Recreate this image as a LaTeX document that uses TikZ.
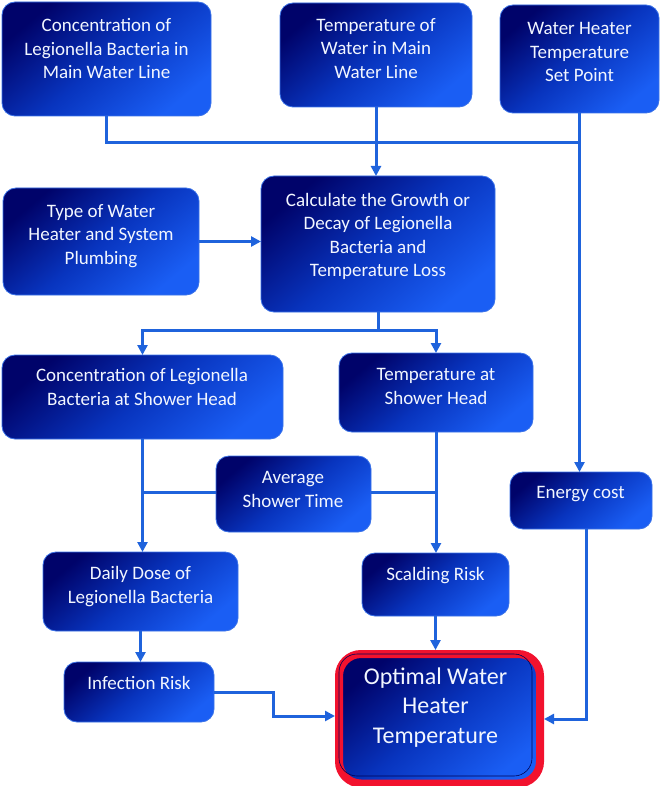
\documentclass[tikz,border=0pt]{standalone}
\usepackage{fontspec}
\setmainfont{Carlito}
\usetikzlibrary{arrows.meta}
\definecolor{navy}{HTML}{00036A}
\definecolor{midblue}{HTML}{0834BE}
\definecolor{bright}{HTML}{1A5EF4}
\definecolor{edge}{HTML}{3A72E8}
\definecolor{linec}{HTML}{1F63DC}
\definecolor{redb}{HTML}{F2122E}
\definecolor{txtc}{HTML}{F2F6FF}
\begin{document}
\begin{tikzpicture}[x=1pt,y=-1pt,
  box/.style={rounded corners=13pt, draw=edge, line width=0.8pt,
    top color=navy, bottom color=bright, middle color=midblue, shading angle=40,
    inner sep=0pt, outer sep=0pt, anchor=north west},
  txt/.style={text=txtc, align=center, inner sep=0pt, anchor=base,
    font=\fontsize{19}{23.5}\selectfont},
  bigtxt/.style={text=txtc, align=center, inner sep=0pt, anchor=base,
    font=\fontsize{24}{29.5}\selectfont},
  conn/.style={draw=linec, line width=3pt},
  arr/.style={conn, -{Triangle[length=10pt,width=10pt]}}]
\useasboundingbox (0,0) rectangle (662,786);

% boxes (top-left corner, size)
\node[box, minimum width=209pt, minimum height=114pt] (cml) at (2,2) {};
\node[box, minimum width=192pt, minimum height=104pt] (tml) at (280,3) {};
\node[box, minimum width=159pt, minimum height=108pt] (wsp) at (500,5) {};
\node[box, minimum width=196pt, minimum height=107pt] (type) at (3,188) {};
\node[box, minimum width=234pt, minimum height=136pt] (calc) at (261,176) {};
\node[box, minimum width=281pt, minimum height=84pt] (csh) at (2,355) {};
\node[box, minimum width=194pt, minimum height=79pt] (tsh) at (339,353) {};
\node[box, minimum width=155pt, minimum height=76pt] (avg) at (216,456) {};
\node[box, minimum width=142pt, minimum height=57pt] (ec) at (510,472) {};
\node[box, minimum width=195pt, minimum height=79pt] (daily) at (43,552) {};
\node[box, minimum width=147pt, minimum height=63pt] (scald) at (362,553) {};
\node[box, minimum width=150pt, minimum height=60pt] (inf) at (64,662) {};
\node[box, draw=redb, line width=8pt, rounded corners=22pt, outer sep=4pt,
  minimum width=201pt, minimum height=129.5pt] (opt) at (335,650) {};
\draw[rounded corners=18pt, draw=navy!80!black, line width=0.6pt]
  (339,654) rectangle (532,776);

% texts (anchor = baseline of the last line)
\node[txt] (cml-t) at (106.5,79) {Concentration of\\Legionella Bacteria in\\Main Water Line};
\node[txt] (tml-t) at (376,78.5) {Temperature of\\Water in Main\\Water Line};
\node[txt] (wsp-t) at (579.5,82) {Water Heater\\Temperature\\Set Point};
\node[txt] (type-t) at (101,264) {Type of Water\\Heater and System\\Plumbing};
\node[txt] (calc-t) at (378,276.5) {Calculate the Growth or\\Decay of Legionella\\Bacteria and\\Temperature Loss};
\node[txt] (csh-t) at (142,405) {Concentration of Legionella\\Bacteria at Shower Head};
\node[txt] (tsh-t) at (436,404) {Temperature at\\Shower Head};
\node[txt] (avg-t) at (293,507) {Average\\Shower Time};
\node[txt] (ec-t) at (580.5,498) {Energy cost};
\node[txt] (daily-t) at (140.5,603) {Daily Dose of\\Legionella Bacteria};
\node[txt] (scald-t) at (435.5,580) {Scalding Risk};
\node[txt] (inf-t) at (139,689) {Infection Risk};
\node[bigtxt] (opt-t) at (435.5,743) {Optimal Water\\Heater\\Temperature};

% connectors
\coordinate (j1) at (580,143);
\coordinate (j2) at (378,330);
\coordinate (k1) at (273,716);
\coordinate (k2) at (586,719);
\draw[conn] (cml.south) |- (j1);
\draw[arr] (wsp.south) -- (wsp.south |- ec.north);
\draw[arr] (tml.south) -- (tml.south |- calc.north);
\draw[arr] (type.east) -- (type.east -| calc.west);
\draw[conn] (calc.south) -- (j2);
\draw[arr] (j2) -| (csh.north);
\draw[arr] (j2) -| (tsh.north);
\draw[arr] (csh.south) -- (csh.south |- daily.north);
\draw[conn] (avg.west |- 0,492) -- (csh.south |- 0,492);
\draw[arr] (tsh.south) -- (tsh.south |- scald.north);
\draw[conn] (avg.east |- 0,492) -- (tsh.south |- 0,492);
\draw[arr] (daily.south) -- (daily.south |- inf.north);
\draw[arr] (inf.east) -| (k1) -- (k1 -| opt.west);
\draw[arr] (scald.south) -- (scald.south |- opt.north);
\draw[arr] (ec.south -| k2) -- (k2) -- (k2 -| opt.east);
\end{tikzpicture}
\end{document}
